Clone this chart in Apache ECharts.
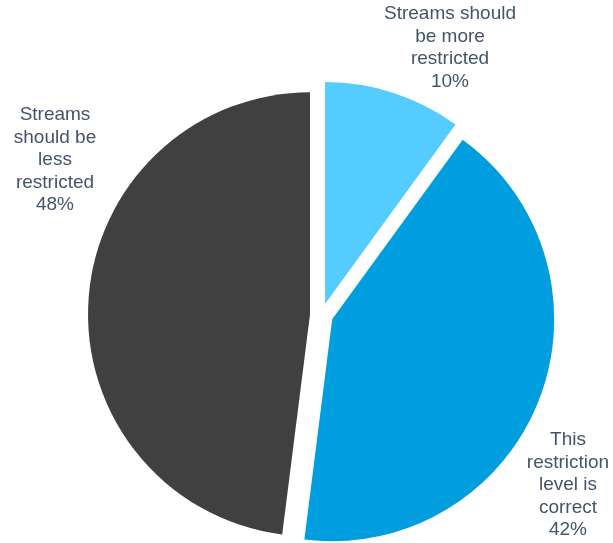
<!DOCTYPE html>
<html>
<head>
<meta charset="utf-8">
<script src="https://cdn.jsdelivr.net/npm/echarts@6/dist/echarts.min.js"></script>
<style>
  html, body { margin: 0; padding: 0; background: #ffffff; }
  #chart { width: 613px; height: 543px; }
</style>
</head>
<body>
<div id="chart"></div>
<script>
// Opinion shares, listed clockwise from twelve o'clock
const categories = [
  'Streams should\nbe more\nrestricted',
  'This\nrestriction\nlevel is\ncorrect',
  'Streams\nshould be\nless\nrestricted'
];
const shares = [10, 42, 48];
const sliceColors = ['#55CCFF', '#009DDF', '#404040'];

// Where each label block is centred on the canvas
const labelAnchors = [
  { x: 450, y: 48 },
  { x: 568, y: 485 },
  { x: 55, y: 160 }
];

const labelStyle = {
  fill: '#44546A',
  font: '19px "Liberation Sans", Arial, sans-serif',
  lineHeight: 22.5,
  align: 'center',
  verticalAlign: 'middle'
};

const chart = echarts.init(document.getElementById('chart'), null, { renderer: 'canvas' });

chart.setOption({
  animation: false,
  graphic: categories.map((name, i) => ({
    type: 'text',
    x: labelAnchors[i].x,
    y: labelAnchors[i].y,
    style: Object.assign({ text: name + '\n' + shares[i] + '%' }, labelStyle)
  })),
  series: [{
    type: 'pie',
    center: [321.5, 315],
    radius: [0, 222],
    startAngle: 90,
    clockwise: true,
    selectedMode: 'multiple',
    selectedOffset: 11.5,
    emphasis: { disabled: true },
    label: { show: false },
    labelLine: { show: false },
    data: categories.map((name, i) => ({
      name: name,
      value: shares[i],
      selected: true,
      itemStyle: { color: sliceColors[i] }
    }))
  }]
});
</script>
</body>
</html>
